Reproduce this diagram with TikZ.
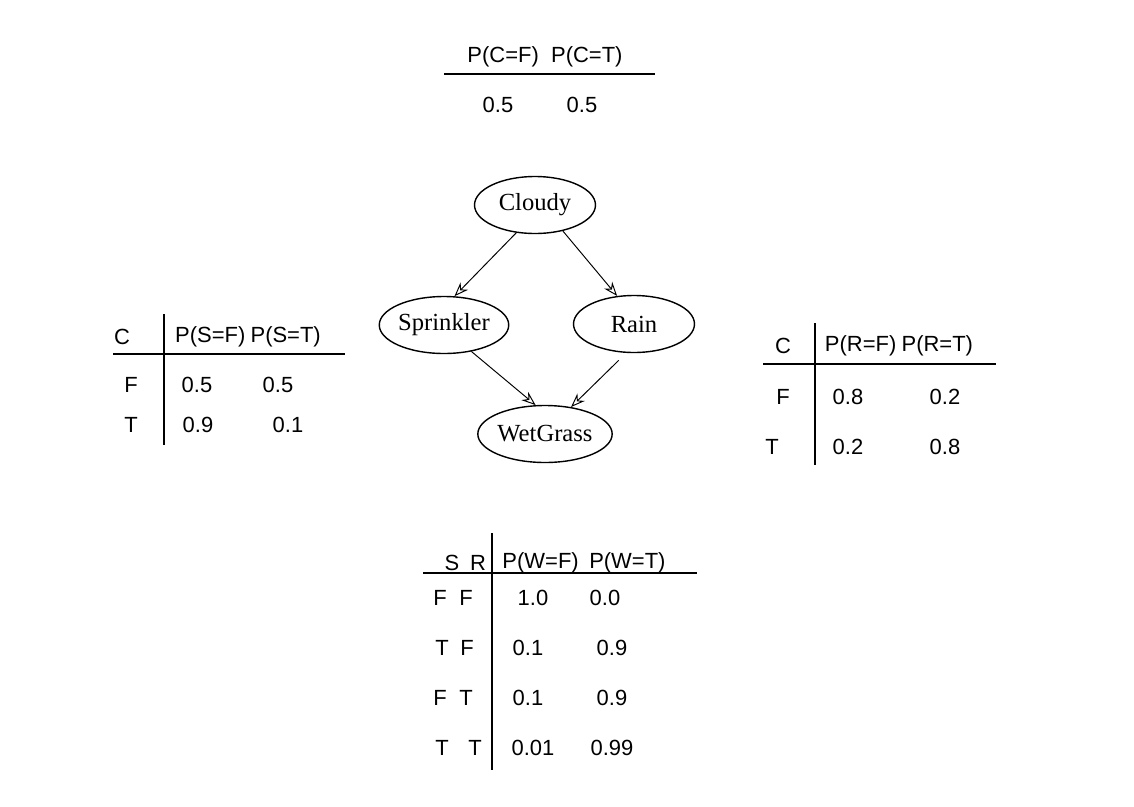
\documentclass[tikz,border=0pt]{standalone}
\usepackage{fontspec}
\setmainfont{Liberation Serif}
\setsansfont{Liberation Sans}
\usetikzlibrary{shapes.geometric,arrows.meta}
\begin{document}
\begin{tikzpicture}[x=0.02cm,y=-0.02cm,
  tbl/.style={font=\sffamily\fontsize{12.5}{14}\selectfont, inner sep=0pt},
  rv/.style={draw, ellipse, line width=0.8pt, inner sep=0pt, minimum width=2.42cm, minimum height=1.14cm, font=\fontsize{14}{16}\selectfont},
  rule/.style={line width=1.1pt},
  edge/.style={line width=0.55pt, -{Stealth[open,length=8pt,width=6pt]}}]
\useasboundingbox (0,0) rectangle (1134,806);

% ---- top table P(C)
\node[tbl] (chead) at (545,57) {P(C=F)\hspace{7pt}P(C=T)};
\coordinate (ctl) at (444,74);
\coordinate (ctr) at (655,74);
\draw[rule] (ctl) -- (ctr);
\node[tbl] (c1) at (498,105) {0.5};
\node[tbl] (c2) at (582,105) {0.5};

% ---- network
\node[rv] (cloudy) at (535,205) {Cloudy};
\node[rv] (spr) at (444,325) {Sprinkler};
\node[rv] (rain) at (634,324) {Rain};
\node[rv] (wet) at (545,434) {WetGrass};
\draw[edge] (cloudy.236) -- (spr.70);
\draw[edge] (cloudy.317) -- (rain.121);
\draw[edge] (spr.316) -- (wet.108);
\draw[edge, shorten <=6pt] (rain.255) -- (wet.46);

% ---- left table P(S|C)
\node[tbl] (sC) at (122,337) {C};
\node[tbl] (sh) at (248,337) {P(S=F)\hspace{3pt}P(S=T)};
\coordinate (sv1) at (164,314);
\coordinate (sv2) at (164,445);
\coordinate (sh1) at (113,354);
\coordinate (sh2) at (345,354);
\draw[rule] (sv1) -- (sv2);
\draw[rule] (sh1) -- (sh2);
\node[tbl] (sF) at (131,385) {F};
\node[tbl] (s11) at (197,385) {0.5};
\node[tbl] (s12) at (278,385) {0.5};
\node[tbl] (sT) at (131,425) {T};
\node[tbl] (s21) at (198,425) {0.9};
\node[tbl] (s22) at (288,425) {0.1};

% ---- right table P(R|C)
\node[tbl] (rC) at (783,346) {C};
\node[tbl] (rh) at (899,346) {P(R=F)\hspace{3pt}P(R=T)};
\coordinate (rv1) at (815,323);
\coordinate (rv2) at (815,465);
\coordinate (rh1) at (763,364);
\coordinate (rh2) at (996,364);
\draw[rule] (rv1) -- (rv2);
\draw[rule] (rh1) -- (rh2);
\node[tbl] (rF) at (783,397) {F};
\node[tbl] (r11) at (848,397) {0.8};
\node[tbl] (r12) at (945,397) {0.2};
\node[tbl] (rT) at (772,447) {T};
\node[tbl] (r21) at (848,447) {0.2};
\node[tbl] (r22) at (945,447) {0.8};

% ---- bottom table P(W|S,R)
\node[tbl] (wS) at (452,563) {S};
\node[tbl] (wR) at (478,563) {R};
\node[tbl] (wh) at (584,563) {P(W=F)\hspace{6pt}P(W=T)};
\coordinate (wv1) at (492,533);
\coordinate (wv2) at (492,770);
\coordinate (wh1) at (423,573);
\coordinate (wh2) at (697,573);
\draw[rule] (wv1) -- (wv2);
\draw[rule] (wh1) -- (wh2);
\node[tbl] (wa1) at (440,598) {F};
\node[tbl] (wa2) at (466,598) {F};
\node[tbl] (wa3) at (533,598) {1.0};
\node[tbl] (wa4) at (605,598) {0.0};
\node[tbl] (wb1) at (442,648) {T};
\node[tbl] (wb2) at (467,648) {F};
\node[tbl] (wb3) at (528,648) {0.1};
\node[tbl] (wb4) at (612,648) {0.9};
\node[tbl] (wc1) at (440,698) {F};
\node[tbl] (wc2) at (466,698) {T};
\node[tbl] (wc3) at (528,698) {0.1};
\node[tbl] (wc4) at (612,698) {0.9};
\node[tbl] (wd1) at (442,748) {T};
\node[tbl] (wd2) at (475,748) {T};
\node[tbl] (wd3) at (533,748) {0.01};
\node[tbl] (wd4) at (612,748) {0.99};
\end{tikzpicture}
\end{document}
